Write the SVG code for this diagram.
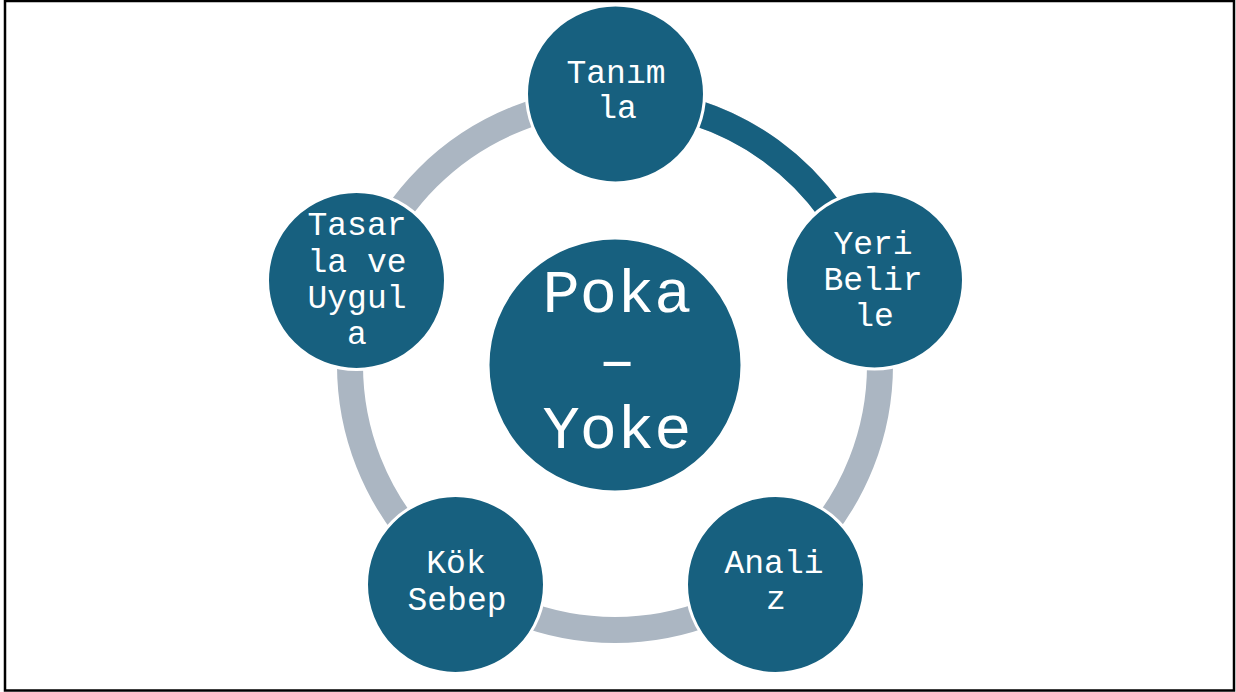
<svg xmlns="http://www.w3.org/2000/svg" width="1236" height="692" viewBox="0 0 1236 692">
<style>
.node{fill:#17607F;stroke:#FFFFFF;stroke-width:3}
.lbl{font-family:"Liberation Mono","Courier New",monospace;font-size:33px;fill:#FFFFFF;text-anchor:middle}
.big{font-size:62px}
.ring{fill:none;stroke:#ABB6C2;stroke-width:26}
.ringdark{fill:none;stroke:#17607F;stroke-width:26}
</style>
<rect x="5" y="1" width="1229" height="689.5" fill="#FFFFFF" stroke="#000000" stroke-width="2.5"/>
<g id="connectors">
<circle class="ring" cx="615" cy="365" r="265"/>
<path class="ringdark" d="M615,100 A265,265 0 0 1 867.0,283.1"/>
</g>
<g id="center">
<circle class="node" cx="615" cy="365" r="127"/>
<text class="lbl big" x="617" y="312">Poka</text>
<text class="lbl big" x="617" y="380">–</text>
<text class="lbl big" x="617" y="448">Yoke</text>
</g>
<g id="n1">
<circle class="node" cx="615.5" cy="94" r="89"/>
<text class="lbl" x="616" y="83">Tanım</text>
<text class="lbl" x="617" y="118">la</text>
</g>
<g id="n2">
<circle class="node" cx="874.5" cy="280" r="89"/>
<text class="lbl" x="873" y="254">Yeri</text>
<text class="lbl" x="873" y="290">Belir</text>
<text class="lbl" x="874" y="326">le</text>
</g>
<g id="n3">
<circle class="node" cx="775.5" cy="584.5" r="89"/>
<text class="lbl" x="774" y="573">Anali</text>
<text class="lbl" x="776" y="609">z</text>
</g>
<g id="n4">
<circle class="node" cx="455.5" cy="584.5" r="89"/>
<text class="lbl" x="456" y="573">Kök</text>
<text class="lbl" x="457" y="610">Sebep</text>
</g>
<g id="n5">
<circle class="node" cx="356.5" cy="280.5" r="89"/>
<text class="lbl" x="357" y="235">Tasar</text>
<text class="lbl" x="357" y="272">la ve</text>
<text class="lbl" x="357" y="308">Uygul</text>
<text class="lbl" x="357" y="344">a</text>
</g>
</svg>
